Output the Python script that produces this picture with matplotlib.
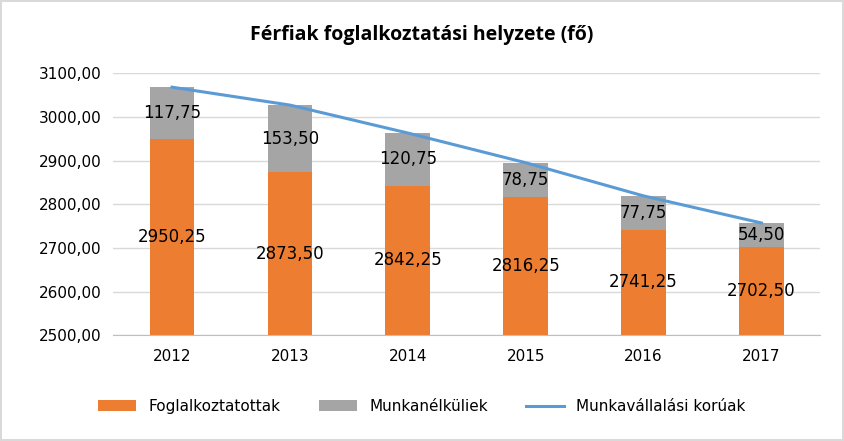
import matplotlib
matplotlib.use("Agg")
import matplotlib.pyplot as plt
import numpy as np

years = ["2012", "2013", "2014", "2015", "2016", "2017"]
employed = [2950.25, 2873.50, 2842.25, 2816.25, 2741.25, 2702.50]
unemployed = [117.75, 153.50, 120.75, 78.75, 77.75, 54.50]
working_age = [3068.00, 3027.00, 2963.00, 2895.00, 2819.00, 2757.00]

def fmt(v):
    return f"{v:.2f}".replace(".", ",")

fig = plt.figure(figsize=(8.44, 4.41), dpi=100)
fig.patch.set_edgecolor("#d9d9d9"); fig.patch.set_linewidth(1.5)
ax = fig.add_axes([0.134, 0.24, 0.838, 0.594])
x = np.arange(len(years))
base = 2500
emp_h = [e - base for e in employed]
b1 = ax.bar(x, emp_h, 0.38, bottom=base, color="#ed7d31", label="Foglalkoztatottak", zorder=2)
b2 = ax.bar(x, unemployed, 0.38, bottom=employed, color="#a5a5a5", label="Munkanélküliek", zorder=2)
l1, = ax.plot(x, working_age, color="#5b9bd5", lw=2.2, label="Munkavállalási korúak", zorder=3)
for i in range(len(x)):
    ax.text(x[i], base + emp_h[i] / 2, fmt(employed[i]), ha="center", va="center", fontsize=12, zorder=4)
    ax.text(x[i], employed[i] + unemployed[i] / 2, fmt(unemployed[i]), ha="center", va="center", fontsize=12, zorder=4)
ax.set_ylim(2500, 3100)
ax.set_yticks(np.arange(2500, 3101, 100))
ax.set_yticklabels([fmt(v) for v in np.arange(2500, 3101, 100)], fontsize=11)
ax.set_xticks(x); ax.set_xticklabels(years, fontsize=11)
ax.set_xlim(-0.5, 5.5)
ax.grid(axis="y", color="#d9d9d9", lw=1, zorder=0)
for s in ["top", "right", "left"]:
    ax.spines[s].set_visible(False)
ax.spines["bottom"].set_color("#bfbfbf")
ax.tick_params(axis="y", length=0, pad=8)
ax.tick_params(axis="x", length=0, pad=10)
fig.text(0.5, 0.92, "Férfiak foglalkoztatási helyzete (fő)", ha="center", va="center",
         fontsize=14, fontweight="bold", family="Open Sans")
fig.legend([b1, b2, l1], ["Foglalkoztatottak", "Munkanélküliek", "Munkavállalási korúak"],
           loc="lower center", ncol=3, frameon=False, fontsize=11, bbox_to_anchor=(0.5, 0.03),
           handlelength=2.5, columnspacing=2.5)
fig.savefig("out.png", dpi=100, edgecolor=fig.get_edgecolor())
